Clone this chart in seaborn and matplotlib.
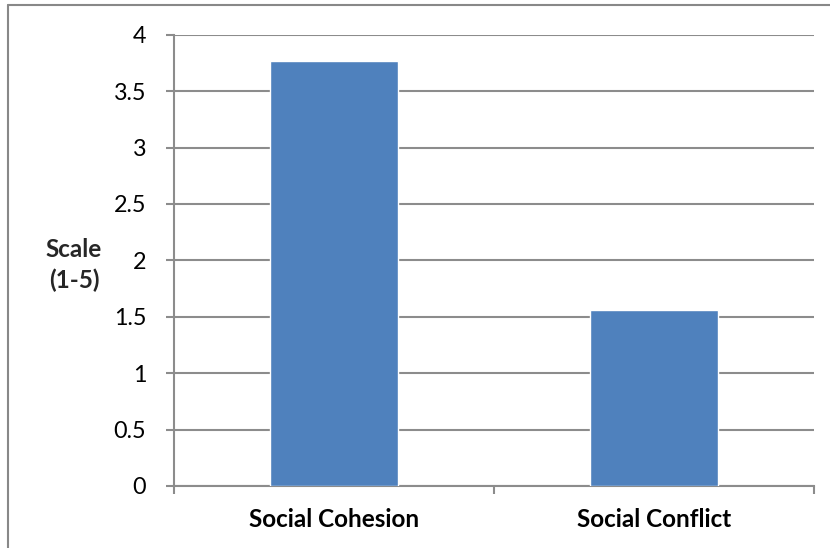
import matplotlib
matplotlib.use("Agg")
import matplotlib.pyplot as plt
import seaborn as sns
import pandas as pd
from matplotlib.lines import Line2D

categories = ["Social Cohesion", "Social Conflict"]
values = [3.77, 1.56]
y_ticks = [0, 0.5, 1, 1.5, 2, 2.5, 3, 3.5, 4]
y_tick_labels = ["0", "0.5", "1", "1.5", "2", "2.5", "3", "3.5", "4"]
y_label = "Scale\n(1-5)"

sns.set_theme(style="white")
plt.rcParams["font.family"] = ["Lato", "DejaVu Sans"]

df = pd.DataFrame({"category": categories, "value": values})

fig = plt.figure(figsize=(8.3, 5.48), dpi=100)
ax = fig.add_axes([174 / 830, 62 / 548, 640 / 830, 451.3 / 548])

sns.barplot(data=df, x="category", y="value", color="#4F81BD", saturation=1,
            width=0.4, ax=ax, zorder=3)

grid_color = "#8C8C8C"
ax.set_ylim(0, 4)
ax.set_xlim(-0.5, 1.5)
ax.set_yticks(y_ticks)
ax.set_yticklabels(y_tick_labels, fontsize=16.8, color="#000000")
ax.yaxis.grid(True, color=grid_color, linewidth=1.5, zorder=0)
ax.set_axisbelow(True)

# category boundary ticks on the x axis
ax.set_xticks([0, 1])
ax.set_xticklabels(categories, fontsize=17.5, fontweight="bold", color="#000000")
ax.tick_params(axis="x", length=0, pad=16)
ax.set_xticks([-0.5, 0.5, 1.5], minor=True)
ax.tick_params(axis="x", which="minor", length=6, width=1.5, color=grid_color, direction="out", bottom=True)
ax.tick_params(axis="y", length=6, width=1.5, color=grid_color, direction="out", pad=14, left=True)

for side in ["top", "right"]:
    ax.spines[side].set_visible(False)
for side in ["left", "bottom"]:
    ax.spines[side].set_color(grid_color)
    ax.spines[side].set_linewidth(1.5)
ax.set_xlabel("")
ax.set_ylabel("")

fig.text(74 / 830, 1 - 265 / 548, y_label, ha="center", va="center",
         fontsize=17.5, fontweight="bold", linespacing=1.4)

# chart area frame
fig.add_artist(Line2D([8 / 830, 1.0], [1 - 5 / 548, 1 - 5 / 548], transform=fig.transFigure,
                      color="#888888", linewidth=1.5))
fig.add_artist(Line2D([8 / 830, 8 / 830], [0, 1 - 5 / 548], transform=fig.transFigure,
                      color="#888888", linewidth=1.5))

fig.savefig("out.png", dpi=100, facecolor="white")
